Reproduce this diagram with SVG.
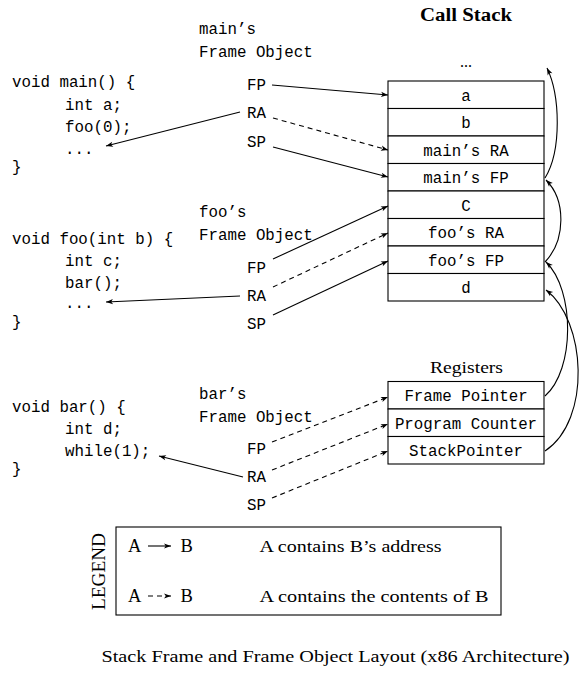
<svg xmlns="http://www.w3.org/2000/svg" width="588" height="675" viewBox="0 0 588 675">
<defs>
<style>
.mono{font-family:"Liberation Mono","DejaVu Sans Mono",monospace;font-size:15.8px;fill:#000}
.serif{font-family:"Liberation Serif","Times New Roman",serif;fill:#000}
.cell{fill:#fff;stroke:#000;stroke-width:1.1}
.c{text-anchor:middle}
.ln{fill:none;stroke:#000;stroke-width:1.1;marker-end:url(#ah)}
.dash{stroke-dasharray:5,4}
</style>
<marker id="ah" markerUnits="userSpaceOnUse" markerWidth="9" markerHeight="7" refX="7" refY="3" orient="auto" overflow="visible">
<path d="M0,0.4 L7,3 L0,5.6 L1.8,3 Z" fill="#000"/>
</marker>
</defs>
<rect width="588" height="675" fill="#fff"/>

<g id="call-stack">
<text class="serif" x="420" y="21" font-weight="bold" font-size="18" textLength="92" lengthAdjust="spacingAndGlyphs">Call Stack</text>
<text class="serif c" x="466" y="67" font-size="16">...</text>
<rect class="cell" x="388" y="81" width="156" height="27.5"/>
<rect class="cell" x="388" y="108.5" width="156" height="27.5"/>
<rect class="cell" x="388" y="136" width="156" height="27.5"/>
<rect class="cell" x="388" y="163.5" width="156" height="27.5"/>
<rect class="cell" x="388" y="191" width="156" height="27.5"/>
<rect class="cell" x="388" y="218.5" width="156" height="27.5"/>
<rect class="cell" x="388" y="246" width="156" height="27.5"/>
<rect class="cell" x="388" y="273.5" width="156" height="27.5"/>
<text class="mono c" x="466" y="100.5">a</text>
<text class="mono c" x="466" y="128">b</text>
<text class="mono c" x="466" y="155.5">main’s RA</text>
<text class="mono c" x="466" y="183">main’s FP</text>
<text class="mono c" x="466" y="210.5">C</text>
<text class="mono c" x="466" y="238">foo’s RA</text>
<text class="mono c" x="466" y="265.5">foo’s FP</text>
<text class="mono c" x="466" y="293">d</text>
</g>

<g id="registers">
<text class="serif" x="430" y="373" font-size="16" textLength="73" lengthAdjust="spacingAndGlyphs">Registers</text>
<rect class="cell" x="388" y="381.5" width="156" height="27.5"/>
<rect class="cell" x="388" y="409" width="156" height="27.5"/>
<rect class="cell" x="388" y="436.5" width="156" height="27.5"/>
<text class="mono c" x="466" y="401.3">Frame Pointer</text>
<text class="mono c" x="466" y="428.8">Program Counter</text>
<text class="mono c" x="466" y="456.3">StackPointer</text>
</g>

<g id="main-code">
<text class="mono" x="12" y="87">void main() {</text>
<text class="mono" x="65" y="109.5">int a;</text>
<text class="mono" x="65" y="132">foo(0);</text>
<text class="mono" x="65" y="153.5">...</text>
<text class="mono" x="12" y="172">}</text>
</g>

<g id="foo-code">
<text class="mono" x="12" y="244">void foo(int b) {</text>
<text class="mono" x="65" y="266">int c;</text>
<text class="mono" x="65" y="288">bar();</text>
<text class="mono" x="65" y="308">...</text>
<text class="mono" x="12" y="327">}</text>
</g>

<g id="bar-code">
<text class="mono" x="12" y="412">void bar() {</text>
<text class="mono" x="65" y="434">int d;</text>
<text class="mono" x="65" y="456">while(1);</text>
<text class="mono" x="12" y="474">}</text>
</g>

<g id="main-frame">
<text class="mono" x="199" y="34">main’s</text>
<text class="mono" x="199" y="57">Frame Object</text>
<text class="mono" x="247" y="90">FP</text>
<text class="mono" x="247" y="118">RA</text>
<text class="mono" x="247" y="146.5">SP</text>
</g>

<g id="foo-frame">
<text class="mono" x="199" y="216.5">foo’s</text>
<text class="mono" x="199" y="239.5">Frame Object</text>
<text class="mono" x="247" y="272.5">FP</text>
<text class="mono" x="247" y="300.5">RA</text>
<text class="mono" x="247" y="328.5">SP</text>
</g>

<g id="bar-frame">
<text class="mono" x="199" y="398.5">bar’s</text>
<text class="mono" x="199" y="421.5">Frame Object</text>
<text class="mono" x="247" y="454">FP</text>
<text class="mono" x="247" y="482">RA</text>
<text class="mono" x="247" y="510">SP</text>
</g>

<g id="connectors">
<path class="ln" d="M272,85 L388,95"/>
<path class="ln" d="M240,112 L106,146"/>
<path class="ln dash" d="M273,118 L388,150"/>
<path class="ln" d="M273,147 L388,177"/>
<path class="ln" d="M273,259 L388,206"/>
<path class="ln dash" d="M273,287 L388,233"/>
<path class="ln" d="M273,315 L388,261"/>
<path class="ln" d="M240,296 L106,302"/>
<path class="ln dash" d="M272,442 L388,397"/>
<path class="ln dash" d="M272,470 L388,424"/>
<path class="ln dash" d="M272,498 L388,451"/>
<path class="ln" d="M243,477 L159,456"/>
<path class="ln" d="M545,178 C562,150 560,95 547,68"/>
<path class="ln" d="M545,262 C566,240 566,200 546,180"/>
<path class="ln" d="M545,396 C575,370 575,290 546,262"/>
<path class="ln" d="M545,451 C592,420 586,320 546,290"/>
</g>

<g id="legend">
<rect x="116" y="527" width="385" height="88" fill="none" stroke="#000" stroke-width="1.1"/>
<text class="serif c" transform="translate(105,571.5) rotate(-90)" font-size="18" textLength="77" lengthAdjust="spacingAndGlyphs">LEGEND</text>
<text class="serif" x="128" y="552" font-size="18.5">A</text>
<path class="ln" d="M148,546 L171,546"/>
<text class="serif" x="180.5" y="552" font-size="18.5">B</text>
<text class="serif" x="259.5" y="552" font-size="17.5" textLength="182" lengthAdjust="spacingAndGlyphs">A contains B’s address</text>
<text class="serif" x="128" y="602" font-size="18.5">A</text>
<path class="ln dash" d="M148,596 L171,596"/>
<text class="serif" x="180.5" y="602" font-size="18.5">B</text>
<text class="serif" x="259.5" y="602" font-size="17.5" textLength="229" lengthAdjust="spacingAndGlyphs">A contains the contents of B</text>
</g>

<g id="caption">
<text class="serif" x="101.5" y="662" font-size="17" textLength="468" lengthAdjust="spacingAndGlyphs">Stack Frame and Frame Object Layout (x86 Architecture)</text>
</g>
</svg>
